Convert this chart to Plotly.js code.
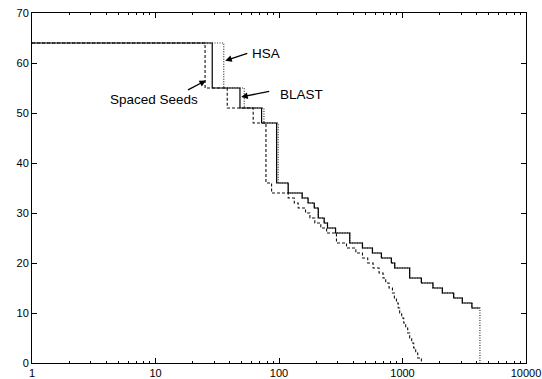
<!DOCTYPE html>
<html>
<head>
<meta charset="utf-8">
<script src="https://cdn.plot.ly/plotly-3.0.1.min.js"></script>
<style>html,body{margin:0;padding:0;background:#fff;}#chart{width:542px;height:379px;}</style>
</head>
<body>
<div id="chart"></div>
<script>
// BLAST (solid): x where the step drops, new y value
const blastX = [1, 28.8, 48.3, 72.3, 95.7, 118.7, 154, 172, 193, 208, 232, 247, 287, 374, 474, 571, 675, 813, 865, 1143, 1422, 1765, 2102, 2596, 3050, 3647, 4235];
const blastY = [64, 55, 51, 48, 36, 34, 33, 32, 31, 29, 28, 27, 26, 24, 23, 22, 21, 20, 19, 17, 16, 15, 14, 13, 12, 11, 11];
// HSA (dotted)
const hsaX = [1, 35.7, 52.3, 75.5, 98.6, 118.7, 154, 172, 193, 208, 232, 247, 287, 374, 474, 571, 675, 813, 865, 1143, 1422, 1765, 2102, 2596, 3050, 3647, 4235];
const hsaY = [64, 55, 51, 48, 36, 34, 33, 32, 31, 29, 28, 27, 26, 24, 23, 22, 21, 20, 19, 17, 16, 15, 14, 13, 12, 11, 0];
// Spaced Seeds (dashed)
const seedsX = [1, 25.2, 38.1, 61.8, 78.4, 87.1, 118.7, 133, 143, 164, 178, 195, 218, 243, 292, 352, 419, 474, 523, 578, 646, 696, 731, 778, 829, 860, 893, 923, 949, 985, 1023, 1061, 1102, 1143, 1187, 1232, 1279, 1328, 1422];
const seedsY = [64, 55, 51, 48, 36, 34, 33, 32, 31, 30, 29, 28, 27, 26, 24, 23, 22, 21, 20, 19, 18, 17, 16, 15, 14, 13, 12, 11, 10, 9, 8, 7, 6, 5, 4, 3, 2, 1, 0];

const xTickVals = [1, 10, 100, 1000, 10000];
const xTickText = ["1", "10", "100", "1000", "10000"];
const yTickVals = [0, 10, 20, 30, 40, 50, 60, 70];

const labelNames = ["HSA", "BLAST", "Spaced Seeds"];

const FONT = "Liberation Sans, Arial, Helvetica, sans-serif";

const traces = [
  {x: hsaX, y: hsaY, type: "scatter", mode: "lines", line: {shape: "hv", color: "#333", width: 1.2, dash: "1px,1.5px"}, hoverinfo: "skip"},
  {x: seedsX, y: seedsY, type: "scatter", mode: "lines", line: {shape: "hv", color: "#111", width: 1.1, dash: "3px,2px"}, hoverinfo: "skip"},
  {x: blastX, y: blastY, type: "scatter", mode: "lines", line: {shape: "hv", color: "#000", width: 1.2}, hoverinfo: "skip"}
];

const annotations = [
  // text labels
  {x: 1.897, y: 62.0, xref: "x", yref: "y", text: labelNames[0], showarrow: false, xanchor: "center", yanchor: "middle", font: {family: FONT, size: 13.5, color: "#000"}},
  {x: 2.180, y: 53.66, xref: "x", yref: "y", text: labelNames[1], showarrow: false, xanchor: "center", yanchor: "middle", font: {family: FONT, size: 13.5, color: "#000"}},
  {x: 0.986, y: 52.7, xref: "x", yref: "y", text: labelNames[2], showarrow: false, xanchor: "center", yanchor: "middle", font: {family: FONT, size: 13.5, color: "#000"}},
  // arrows
  {x: 1.565, y: 60.46, xref: "x", yref: "y", text: " ", showarrow: true, ax: 25, ay: -8.3, arrowhead: 2, arrowsize: 1, arrowwidth: 1.3, arrowcolor: "#000", standoff: 0},
  {x: 1.694, y: 53.2, xref: "x", yref: "y", text: " ", showarrow: true, ax: 31, ay: -6.3, arrowhead: 2, arrowsize: 1, arrowwidth: 1.3, arrowcolor: "#000", standoff: 0},
  {x: 1.409, y: 56.5, xref: "x", yref: "y", text: " ", showarrow: true, ax: -21, ay: 11, arrowhead: 2, arrowsize: 1, arrowwidth: 1.3, arrowcolor: "#000", standoff: 0}
];

const layout = {
  width: 542, height: 379,
  margin: {l: 32, r: 16, t: 13, b: 16, pad: 0},
  paper_bgcolor: "#fff", plot_bgcolor: "#fff",
  showlegend: false,
  font: {family: FONT, size: 11, color: "#000"},
  xaxis: {
    type: "log", range: [0, 4],
    tickmode: "array", tickvals: xTickVals, ticktext: xTickText,
    ticks: "inside", ticklen: 5, tickwidth: 1, tickcolor: "#000",
    showline: true, linecolor: "#000", linewidth: 1, mirror: "ticks",
    showgrid: false, zeroline: false,
    tickfont: {family: FONT, size: 11, color: "#000"},
    minor: {ticks: "inside", ticklen: 2, tickwidth: 1, tickcolor: "#000", dtick: "D1", showgrid: false}
  },
  yaxis: {
    range: [0, 70],
    tickmode: "array", tickvals: yTickVals,
    ticks: "inside", ticklen: 5, tickwidth: 1, tickcolor: "#000",
    showline: true, linecolor: "#000", linewidth: 1, mirror: "ticks",
    showgrid: false, zeroline: false,
    tickfont: {family: FONT, size: 11, color: "#000"}
  },
  annotations: annotations
};

Plotly.newPlot("chart", traces, layout, {displayModeBar: false, staticPlot: true});
</script>
</body>
</html>
